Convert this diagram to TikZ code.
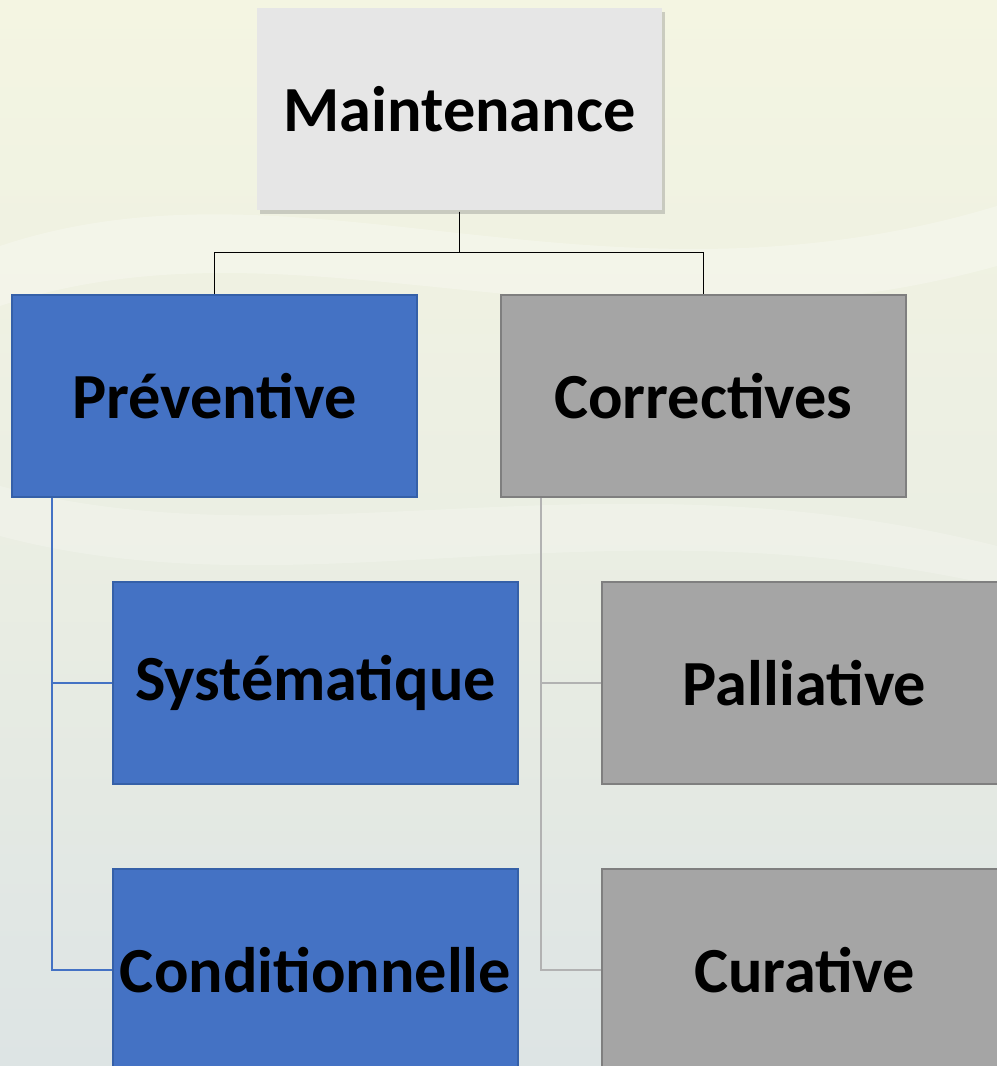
\documentclass[tikz,border=0pt]{standalone}
\usepackage{fontspec}
\setmainfont{Carlito}
\usepackage{xcolor}
\usepackage{tikz}
\usetikzlibrary{shapes,shadows,calc}
\definecolor{cBlueFill}{HTML}{4472C4}
\definecolor{cBlueLine}{HTML}{3560A8}
\definecolor{cGreyFill}{HTML}{A5A5A5}
\definecolor{cGreyLine}{HTML}{7F7F7F}
\definecolor{cTopFill}{HTML}{E6E6E6}
\definecolor{cBackA}{HTML}{F4F5E2}
\definecolor{cBackB}{HTML}{DDE4E4}
\tikzstyle{tsBoldText} = [ 
    text=black, 
    font=\bfseries\fontsize{18.3}{22}\selectfont
]
\tikzstyle{tsBox} = [ 
    rectangle,
    tsBoldText,
    align=center,
    inner sep=0pt,
    minimum width=4.05cm,
    minimum height=2.02cm,
    line width=0.6pt]
\tikzstyle{tsTopBox} = [ 
    tsBox,
    fill=cTopFill,
    drop shadow={shadow xshift=0.03cm, shadow yshift=-0.04cm, opacity=0.35}]
\tikzstyle{tsBlueBox} = [ 
    tsBox,
    draw=cBlueLine,
    fill=cBlueFill]
\tikzstyle{tsGreyBox} = [ 
    tsBox,
    draw=cGreyLine,
    fill=cGreyFill]
\tikzstyle{tsLink} = [ 
    line width=0.45pt]

\begin{document}
\begin{tikzpicture}
        
        % background
        \useasboundingbox (0,0) rectangle (9.97,10.66);
        \clip (0,0) rectangle (9.97,10.66);
        \shade[top color=cBackA, bottom color=cBackB, middle color=cBackA!60!cBackB] (0,0) rectangle (9.97,10.66);
        \fill[white, opacity=0.25] (0,8.2) .. controls (3,9.2) and (6,7.4) .. (9.97,8.6) -- (9.97,8.0) .. controls (6,6.9) and (3,8.6) .. (0,7.6) -- cycle;
        \fill[white, opacity=0.2] (0,5.8) .. controls (3,5.0) and (6,6.2) .. (9.97,5.2) -- (9.97,4.8) .. controls (6,5.7) and (3,4.5) .. (0,5.3) -- cycle;
        
        % boxes
        \node[tsTopBox]  (maint) at (4.595,9.565) {Maintenance};
        \node[tsBlueBox] (prev)  at (2.145,6.70)  {Préventive};
        \node[tsGreyBox] (corr)  at (7.035,6.70)  {Correctives};
        \node[tsBlueBox] (syst)  at (3.155,3.83)  {Systématique};
        \node[tsBlueBox] (cond)  at (3.155,0.96)  {Conditionnelle};
        \node[tsGreyBox] (pall)  at (8.045,3.83)  {Palliative};
        \node[tsGreyBox] (cura)  at (8.045,0.96)  {Curative};
        
        % links
        \draw[tsLink, black] (maint.south) -- ++(0,-0.41) -| (prev.north);
        \draw[tsLink, black] (maint.south) -- ++(0,-0.41) -| (corr.north);
        
        \draw[tsLink, cBlueFill] ($(prev.south west)+(0.41,0)$) |- (syst.west);
        \draw[tsLink, cBlueFill] ($(prev.south west)+(0.41,0)$) |- (cond.west);
        
        \draw[tsLink, black!30] ($(corr.south west)+(0.41,0)$) |- (pall.west);
        \draw[tsLink, black!30] ($(corr.south west)+(0.41,0)$) |- (cura.west);
        
\end{tikzpicture}
\end{document}
